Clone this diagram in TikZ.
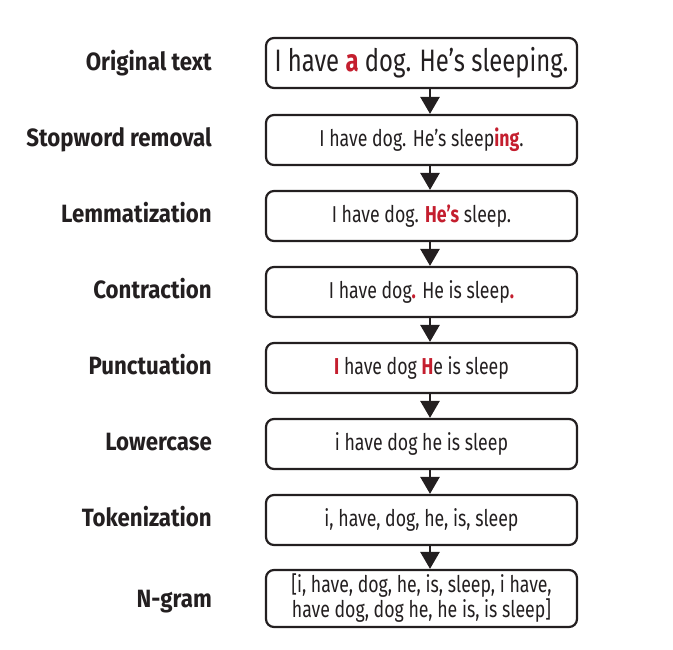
\documentclass[tikz,border=0pt]{standalone}
\usepackage{fontspec}
\setmainfont{Fira Sans}[FakeStretch=0.77]
\newfontfamily\lblfont{Fira Sans}[FakeStretch=0.89]
\usetikzlibrary{arrows.meta}
\definecolor{accent}{HTML}{C41E2E}
\definecolor{ink}{HTML}{231F20}
\newcommand{\hl}[1]{\textcolor{accent}{\bfseries #1}}
\begin{document}
\begin{tikzpicture}[x=1pt,y=-1pt,
  stage/.style={draw=ink, text=ink, line width=2.2pt, rounded corners=8pt,
    minimum width=311pt, minimum height=50pt, inner sep=0pt, align=center,
    font=\fontsize{23}{25}\selectfont},
  lbl/.style={anchor=base east, inner sep=0pt, text=ink,
    font=\lblfont\bfseries\fontsize{25}{27}\selectfont},
  flow/.style={draw=ink, line width=2.6pt, -{Triangle[width=19pt,length=17pt]}}
]
\useasboundingbox (0,0) rectangle (673,649);

\node[stage, font=\fontsize{31}{33}\selectfont] (b1) at (421.5,63) {I have \hl{a} dog. He’s sleeping.};
\node[stage] (b2) at (421.5,140) {I have dog. He’s sleep\hl{ing}.};
\node[stage] (b3) at (421.5,216) {I have dog. \hl{He’s} sleep.};
\node[stage] (b4) at (421.5,292) {I have dog\hl{.} He is sleep\hl{.}};
\node[stage] (b5) at (421.5,368) {\hl{I} have dog \hl{H}e is sleep};
\node[stage] (b6) at (421.5,444) {i have dog he is sleep};
\node[stage] (b7) at (421.5,520) {i, have, dog, he, is, sleep};
\node[stage, minimum height=57pt] (b8) at (421.5,598.5) {[i, have, dog, he, is, sleep, i have,\\have dog, dog he, he is, is sleep]};

\node[lbl] (l1) at (212,70) {Original text};
\node[lbl] (l2) at (212,146) {Stopword removal};
\node[lbl] (l3) at (212,222) {Lemmatization};
\node[lbl] (l4) at (212,298) {Contraction};
\node[lbl] (l5) at (212,374) {Punctuation};
\node[lbl] (l6) at (212,450) {Lowercase};
\node[lbl] (l7) at (212,526) {Tokenization};
\node[lbl] (l8) at (212,607) {N-gram};

\foreach \a/\b in {b1/b2,b2/b3,b3/b4,b4/b5,b5/b6,b6/b7,b7/b8}
  \draw[flow] ([xshift=8.5pt]\a.south) -- ([xshift=8.5pt]\b.north);
\end{tikzpicture}
\end{document}
